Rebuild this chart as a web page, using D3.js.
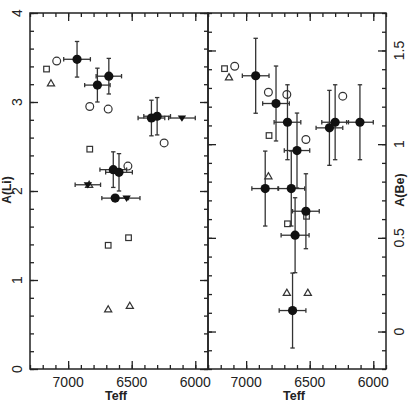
<!DOCTYPE html>
<html>
<head>
<meta charset="utf-8">
<script src="https://cdn.jsdelivr.net/npm/d3@7"></script>
<style>
  body { margin: 0; background: #fff; }
  text { font-family: "Liberation Sans", Arial, sans-serif; fill: #222; }
</style>
</head>
<body>
<svg width="410" height="402"></svg>
<script>
// left panel: A(Li) vs Teff  [Teff, A, errT, errA]
const liFilled = [
  [6930, 3.48, 105, 0.20], [6770, 3.19, 100, 0.19], [6680, 3.29, 100, 0.20],
  [6345, 2.82, 105, 0.20], [6300, 2.84, 105, 0.21], [6645, 2.24, 105, 0.20],
  [6600, 2.21, 105, 0.21], [6630, 1.92, 105, 0]
];
const liLimits = [[6105, 2.82, 105], [6845, 2.07, 100], [6540, 1.92, 105]];
const liCircles = [[7090, 3.46], [6830, 2.95], [6685, 2.92], [6245, 2.54], [6530, 2.28]];
const liSquares = [[7170, 3.37], [6830, 2.47], [6685, 1.39], [6525, 1.475]];
const liTriangles = [[7135, 3.21], [6835, 2.07], [6685, 0.67], [6515, 0.71]];

// right panel: A(Be) vs Teff
const beFilled = [
  [6925, 1.365, 105, 0.20], [6765, 1.217, 105, 0.20], [6675, 1.117, 105, 0.20],
  [6600, 0.966, 100, 0.20], [6345, 1.087, 105, 0.20], [6300, 1.117, 105, 0.20],
  [6105, 1.117, 105, 0.20], [6850, 0.763, 105, 0.20], [6645, 0.763, 105, 0.20],
  [6530, 0.642, 105, 0.20], [6615, 0.514, 110, 0.20], [6635, 0.112, 105, 0.20]
];
const beLimits = [];
const beCircles = [[7090, 1.416], [6825, 1.277], [6680, 1.265], [6530, 1.025], [6240, 1.256]];
const beSquares = [[7170, 1.403], [6820, 1.046], [6675, 0.575], [6525, 0.615]];
const beTriangles = [[7135, 1.357], [6825, 0.829], [6680, 0.207], [6515, 0.207]];

const teffDomain = [7300, 5900];
const teffMajor = [7000, 6500, 6000];
const teffMinor = d3.range(5900, 7301, 100);
const liMajor = [0, 1, 2, 3, 4];
const liMinor = d3.range(0, 4.001, 0.2);
const beMajor = [0, 0.5, 1, 1.5];
const beMinor = d3.range(-0.2, 1.7001, 0.1);

const yTop = 13, yBottom = 369;
const svg = d3.select('svg');
const ink = '#222';

function panel(x0, x1, yScale, d) {
  const x = d3.scaleLinear().domain(teffDomain).range([x0, x1]);
  const g = svg.append('g');

  // ticks, inward on all four sides
  const tickAxis = (gen, vals, size, tr) => {
    g.append('g').attr('transform', tr)
      .call(gen.tickValues(vals).tickSize(size).tickFormat(''))
      .call(s => s.select('.domain').remove())
      .selectAll('line').attr('stroke', ink).attr('stroke-width', 1.3);
  };
  tickAxis(d3.axisBottom(x), teffMinor, -4, `translate(0,${yBottom})`);
  tickAxis(d3.axisBottom(x), teffMajor, -8, `translate(0,${yBottom})`);
  tickAxis(d3.axisTop(x), teffMinor, -4, `translate(0,${yTop})`);
  tickAxis(d3.axisTop(x), teffMajor, -8, `translate(0,${yTop})`);
  tickAxis(d3.axisLeft(yScale), d.minor, -4, `translate(${x0},0)`);
  tickAxis(d3.axisLeft(yScale), d.major, -8, `translate(${x0},0)`);
  tickAxis(d3.axisRight(yScale), d.minor, -4, `translate(${x1},0)`);
  tickAxis(d3.axisRight(yScale), d.major, -8, `translate(${x1},0)`);

  g.append('rect').attr('x', x0).attr('y', yTop)
    .attr('width', x1 - x0).attr('height', yBottom - yTop)
    .attr('fill', 'none').attr('stroke', ink).attr('stroke-width', 1.5);

  g.selectAll('.xl').data(teffMajor).join('text')
    .attr('x', x).attr('y', 387)
    .attr('text-anchor', 'middle').attr('font-size', 14).text(v => v);
  g.append('text').attr('x', (x0 + x1) / 2 - 3).attr('y', 400)
    .attr('text-anchor', 'middle').attr('font-size', 12.5).attr('font-weight', 'bold')
    .text('Teff');

  // error bars
  const eb = g.append('g').attr('stroke', '#333').attr('stroke-width', 1.3);
  const cap = 2.2;
  const bars = d.filled.map(p => ({t: p[0], v: p[1], et: p[2], ev: p[3]}))
    .concat(d.limits.map(p => ({t: p[0], v: p[1], et: p[2], ev: 0})));
  bars.forEach(b => {
    const cx = x(b.t), cy = yScale(b.v);
    if (b.et) {
      const xa = x(b.t + b.et), xb = x(b.t - b.et);
      eb.append('line').attr('x1', xa).attr('x2', xb).attr('y1', cy).attr('y2', cy);
      [xa, xb].forEach(xx => eb.append('line').attr('x1', xx).attr('x2', xx)
        .attr('y1', cy - cap).attr('y2', cy + cap));
    }
    if (b.ev) {
      const ya = yScale(b.v + b.ev), yb = yScale(b.v - b.ev);
      eb.append('line').attr('x1', cx).attr('x2', cx).attr('y1', ya).attr('y2', yb);
      [ya, yb].forEach(yy => eb.append('line').attr('y1', yy).attr('y2', yy)
        .attr('x1', cx - cap).attr('x2', cx + cap));
    }
  });

  const open = {fill: 'none', stroke: '#333', 'stroke-width': 1.2};
  const style = (s, o) => { Object.entries(o).forEach(([k, v]) => s.attr(k, v)); return s; };

  style(g.append('g').selectAll('circle').data(d.circles).join('circle')
    .attr('cx', p => x(p[0])).attr('cy', p => yScale(p[1])).attr('r', 3.9), open);
  style(g.append('g').selectAll('rect').data(d.squares).join('rect')
    .attr('x', p => x(p[0]) - 2.8).attr('y', p => yScale(p[1]) - 2.8)
    .attr('width', 5.6).attr('height', 5.6), open);
  style(g.append('g').selectAll('path').data(d.triangles).join('path')
    .attr('d', p => {
      const cx = x(p[0]), cy = yScale(p[1]);
      return `M${cx},${cy - 3.6}L${cx + 3.6},${cy + 2.6}L${cx - 3.6},${cy + 2.6}Z`;
    }), open);

  g.append('g').selectAll('path').data(d.limits).join('path')
    .attr('d', p => {
      const cx = x(p[0]), cy = yScale(p[1]);
      return `M${cx - 4.2},${cy - 2.5}L${cx + 4.2},${cy - 2.5}L${cx},${cy + 3.8}Z`;
    }).attr('fill', '#111');
  g.append('g').selectAll('circle').data(d.filled).join('circle')
    .attr('cx', p => x(p[0])).attr('cy', p => yScale(p[1])).attr('r', 4.6)
    .attr('fill', '#111');
  return g;
}

const yLi = d3.scaleLinear().domain([0, 4]).range([yBottom, yTop]);
const yBe = d3.scaleLinear().domain([-0.2, 1.7]).range([yBottom, yTop]);

panel(30, 208, yLi, {major: liMajor, minor: liMinor, filled: liFilled, limits: liLimits,
  circles: liCircles, squares: liSquares, triangles: liTriangles});
panel(208, 386, yBe, {major: beMajor, minor: beMinor, filled: beFilled, limits: beLimits,
  circles: beCircles, squares: beSquares, triangles: beTriangles});

// rotated y labels
svg.selectAll('.yl').data(liMajor).join('text')
  .attr('transform', v => `translate(22,${yLi(v)}) rotate(-90)`)
  .attr('text-anchor', 'middle').attr('font-size', 14).text(v => v);
svg.append('text').attr('transform', `translate(11,190) rotate(-90)`)
  .attr('text-anchor', 'middle').attr('font-size', 12).attr('font-weight', 'bold')
  .text('A(Li)');
svg.selectAll('.yr').data(beMajor).join('text')
  .attr('transform', v => `translate(404,${yBe(v)}) rotate(-90)`)
  .attr('text-anchor', 'middle').attr('font-size', 14).text(v => v);
svg.append('text').attr('transform', `translate(404,190) rotate(-90)`)
  .attr('text-anchor', 'middle').attr('font-size', 12.5).attr('font-weight', 'bold')
  .text('A(Be)');
</script>
</body>
</html>
